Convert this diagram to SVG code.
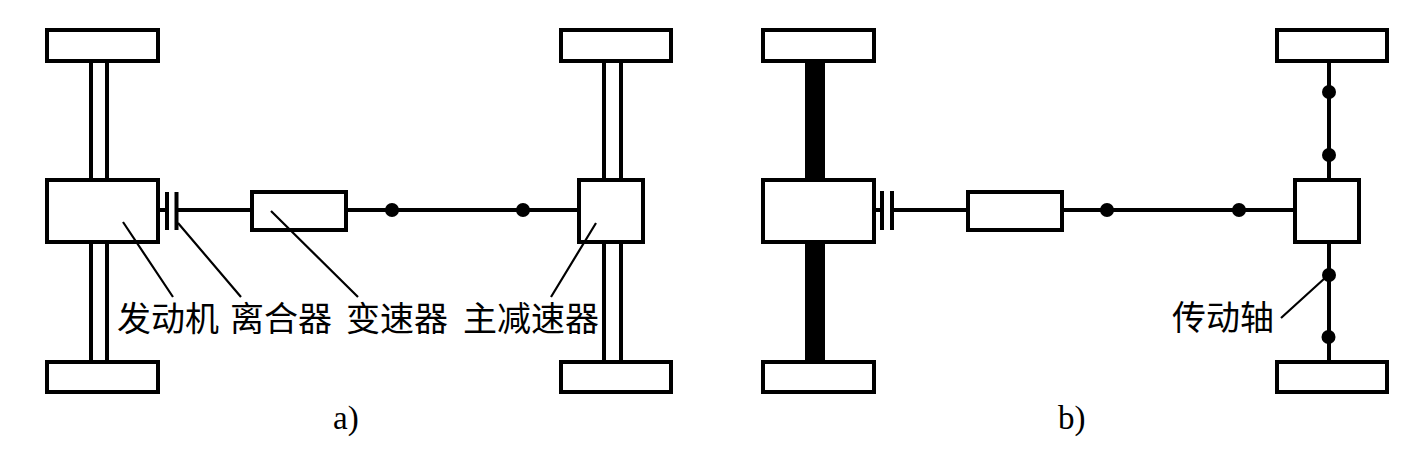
<svg xmlns="http://www.w3.org/2000/svg" width="1419" height="459" viewBox="0 0 1419 459">
<style>
.box{fill:#fff;stroke:#000;stroke-width:4}
.shaft{fill:none;stroke:#000;stroke-width:4}
.lead{fill:none;stroke:#000;stroke-width:2.200}
.plate{fill:none;stroke:#000;stroke-width:4}
.dot{fill:#000}
.cjk{font-family:"Noto Sans CJK SC","Noto Sans CJK JP",sans-serif;font-size:34px;fill:#000}
.cap{font-family:"Liberation Serif",serif;font-size:33px;fill:#000}
</style>
<rect width="1419" height="459" fill="#fff"/>
<g id="connectors">
<path class="shaft" d="M91 62V178M107 62V178M91 244V360M107 244V360M604 62V178M621 62V178M604 244V360M621 244V360"/>
<path class="shaft" d="M160 210H167M176 210H250M347 210H577"/>
<path class="plate" d="M167 192V230M176.500 192V230"/>
<circle class="dot" cx="392" cy="210" r="7"/>
<circle class="dot" cx="523" cy="210" r="7"/>
<rect x="805" y="62" width="20" height="116" fill="#000"/>
<rect x="805" y="244" width="20" height="116" fill="#000"/>
<path class="shaft" d="M876 210H882M892 210H966M1064 210H1293"/>
<path class="plate" d="M882 191V230M892 191V230"/>
<circle class="dot" cx="1107" cy="210" r="7"/>
<circle class="dot" cx="1239" cy="210" r="7"/>
<path class="shaft" d="M1329 62V178M1329 244V360"/>
<circle class="dot" cx="1329" cy="92" r="7"/>
<circle class="dot" cx="1329" cy="155" r="7"/>
<circle class="dot" cx="1329" cy="275" r="7"/>
<circle class="dot" cx="1328.500" cy="337" r="7"/>
</g>
<g id="a-wheel-tl"><rect class="box" x="47" y="30" width="111" height="31"/></g>
<g id="a-wheel-bl"><rect class="box" x="47" y="362" width="111" height="30"/></g>
<g id="a-wheel-tr"><rect class="box" x="561" y="30" width="110" height="31"/></g>
<g id="a-wheel-br"><rect class="box" x="561" y="362" width="110" height="30"/></g>
<g id="a-engine"><rect class="box" x="47" y="180" width="111" height="62"/></g>
<g id="a-gearbox"><rect class="box" x="252" y="192" width="94" height="38"/></g>
<g id="a-final-drive"><rect class="box" x="579" y="180" width="64" height="62"/></g>
<g id="b-wheel-tl"><rect class="box" x="763" y="30" width="111" height="31"/></g>
<g id="b-wheel-bl"><rect class="box" x="763" y="362" width="111" height="30"/></g>
<g id="b-wheel-tr"><rect class="box" x="1277" y="30" width="110" height="31"/></g>
<g id="b-wheel-br"><rect class="box" x="1277" y="362" width="110" height="30"/></g>
<g id="b-engine"><rect class="box" x="763" y="180" width="111" height="62"/></g>
<g id="b-gearbox"><rect class="box" x="968" y="192" width="94" height="38"/></g>
<g id="b-final-drive"><rect class="box" x="1295" y="180" width="64" height="62"/></g>
<g id="leaders">
<path class="lead" d="M123 222L173 297M178 223L241 297M271 211L358 297M596 223L551 297M1325 278L1281 318"/>
</g>
<g id="labels">
<text class="cjk" x="117" y="331">发动机</text>
<text class="cjk" x="230" y="331">离合器</text>
<text class="cjk" x="346" y="331">变速器</text>
<text class="cjk" x="463" y="331">主减速器</text>
<text class="cjk" x="1172" y="330">传动轴</text>
<text class="cap" x="333" y="429">a)</text>
<text class="cap" x="1058" y="429">b)</text>
</g>
</svg>
